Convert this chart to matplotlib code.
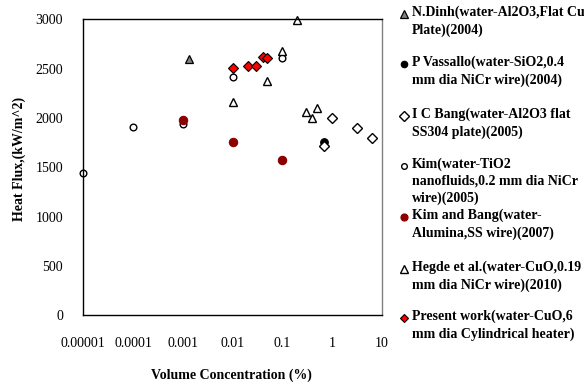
import matplotlib
matplotlib.use("Agg")
import matplotlib.pyplot as plt
from matplotlib.lines import Line2D

plt.rcParams['font.family'] = ['Liberation Serif', 'DejaVu Serif']

# data (volume concentration %, heat flux kW/m^2)
dinh_x = [0.0013]
dinh_y = [2600]
vassallo_x = [0.69]
vassallo_y = [1755]
bang_x = [0.69, 1.0, 3.2, 6.2]
bang_y = [1720, 2000, 1900, 1800]
kim_x = [0.00001, 0.0001, 0.001, 0.01, 0.1]
kim_y = [1445, 1905, 1940, 2420, 2610]
kimbang_x = [0.001, 0.01, 0.1]
kimbang_y = [1980, 1755, 1570]
hegde_x = [0.2, 0.1, 0.05, 0.01, 0.3, 0.4, 0.5]
hegde_y = [2990, 2680, 2380, 2160, 2060, 2000, 2100]
present_x = [0.01, 0.02, 0.03, 0.04, 0.05]
present_y = [2505, 2530, 2530, 2615, 2605]

labels = [
    "N.Dinh(water-Al2O3,Flat Cu\nPlate)(2004)",
    "P Vassallo(water-SiO2,0.4\nmm dia NiCr wire)(2004)",
    "I C Bang(water-Al2O3 flat\nSS304 plate)(2005)",
    "Kim(water-TiO2\nnanofluids,0.2 mm dia NiCr\nwire)(2005)",
    "Kim and Bang(water-\nAlumina,SS wire)(2007)",
    "Hegde et al.(water-CuO,0.19\nmm dia NiCr wire)(2010)",
    "Present work(water-CuO,6\nmm dia Cylindrical heater)",
]

styles = [
    dict(marker='^', ms=6, mfc='#808080', mec='black', mew=0.9),
    dict(marker='o', ms=5.5, mfc='black', mec='black', mew=0.8),
    dict(marker='D', ms=5.5, mfc='white', mec='black', mew=1.0),
    dict(marker='o', ms=4.8, mfc='white', mec='black', mew=1.0),
    dict(marker='o', ms=6, mfc='#8B0000', mec='#8B0000', mew=0.8),
    dict(marker='^', ms=6, mfc='white', mec='black', mew=1.0),
    dict(marker='D', ms=4.6, mfc='#FF0000', mec='black', mew=0.8),
]
series = [(dinh_x, dinh_y), (vassallo_x, vassallo_y), (bang_x, bang_y),
          (kim_x, kim_y), (kimbang_x, kimbang_y), (hegde_x, hegde_y),
          (present_x, present_y)]

fig = plt.figure(figsize=(5.84, 3.87), dpi=100)
ax = fig.add_axes([0.1426, 0.1853, 0.5114, 0.7647])

for (xs, ys), st in zip(series, styles):
    ax.plot(xs, ys, linestyle='none', clip_on=False, **st)

ax.set_xscale('log')
ax.set_xlim(0.00001, 10)
ax.set_ylim(0, 3000)
ax.set_xticks([0.00001, 0.0001, 0.001, 0.01, 0.1, 1, 10])
ax.set_xticklabels(['0.00001', '0.0001', '0.001', '0.01', '0.1', '1', '10'])
ax.set_yticks(range(0, 3001, 500))
ax.minorticks_off()
ax.tick_params(axis='both', length=0, labelsize=10)
ax.tick_params(axis='x', pad=15.5)
ax.tick_params(axis='y', pad=14.5)
for s in ax.spines.values():
    s.set_linewidth(1.0)
ax.spines['right'].set_color('#808080')

fig.text(0.397, 1 - 375 / 387, 'Volume Concentration (%)', ha='center', va='center',
         fontsize=10, fontweight='bold')
fig.text(19 / 584, 1 - 159 / 387, 'Heat Flux,(kW/m^2)', ha='center', va='center',
         rotation=90, fontsize=10, fontweight='bold')

# legend, Excel style fixed slots on the right
slot_y = [14, 64, 116, 166, 217, 269, 318]
for lab, st, yy in zip(labels, styles, slot_y):
    yf = 1 - yy / 387
    fig.add_artist(Line2D([404 / 584], [yf], transform=fig.transFigure,
                          linestyle='none', **dict(st, ms=st['ms'] * 0.85)))
    fig.text(412 / 584, yf + 8 / 387, lab, ha='left', va='top', fontsize=10,
             fontweight='bold', linespacing=1.35)

fig.savefig('out.png', dpi=100)
